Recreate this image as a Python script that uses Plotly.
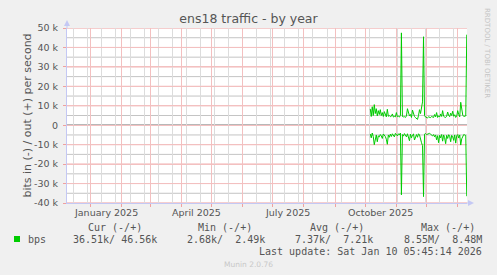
import plotly.graph_objects as go
import pandas as pd

# ---- data (k bits per second, daily averages) ----
start_date = "2025-10-06"
out_k = [8.4, 4.5, 9.5, 5.0, 10.6, 6.0, 8.5, 4.8, 7.5, 5.5, 8.0,
         5.0, 6.5, 4.5, 7.0, 5.2, 4.3, 8.2, 4.6, 5.0, 4.4,
         4.6, 5.8, 4.2, 4.5, 4.3, 6.5, 4.4, 4.6, 4.2, 5.0,
         47.5,
         4.5, 4.3, 4.4, 4.0, 4.8, 8.5, 6.0, 4.8, 5.5, 4.0,
         7.8, 5.2, 4.5, 3.9, 3.5, 3.0, 5.0, 8.0, 6.0, 9.0, 12.0,
         45.5,
         5.0, 4.2, 4.0, 3.8, 4.3, 4.0, 3.9, 4.5, 4.2, 4.0,
         5.5, 4.3, 6.5, 4.0, 4.8, 4.2, 5.8, 4.5, 7.5, 4.6,
         4.2, 4.0, 4.6, 6.8, 5.0, 4.4, 6.2, 5.0, 7.2, 4.6,
         5.4, 4.0, 4.6, 7.5, 5.5, 4.3, 11.8, 8.0, 5.2, 4.5,
         4.6, 4.8,
         46.56]
in_k = [4.5, 6.5, 4.0, 5.8, 10.0, 6.2, 5.0, 8.5, 5.5, 6.0, 4.8,
        5.5, 6.8, 4.5, 5.0, 5.8, 7.2, 9.8, 5.0, 6.2, 4.6,
        5.8, 4.4, 5.5, 6.0, 4.2, 5.0, 5.5, 4.4, 5.0, 4.0,
        35.8,
        4.8, 5.6, 4.3, 5.2, 6.0, 4.4, 5.8, 8.0, 4.6, 6.5,
        5.0, 4.5, 7.6, 5.5, 4.8, 6.2, 4.4, 5.0, 7.5, 9.0, 10.5,
        36.7,
        4.6, 4.3, 4.8, 4.5, 4.4, 4.2, 4.6, 5.2, 5.5, 4.8,
        6.0, 5.0, 7.5, 5.4, 9.0, 5.2, 6.5, 4.8, 8.2, 5.0,
        6.4, 9.5, 5.2, 6.8, 4.9, 5.6, 8.5, 5.2, 6.0, 7.8,
        5.0, 9.2, 5.4, 4.8, 6.6, 5.0, 10.2, 7.0, 5.5, 4.8,
        5.0, 5.3,
        36.51]
dates = pd.date_range(start_date, periods=len(out_k), freq="D")

y_tickvals = [-40, -30, -20, -10, 0, 10, 20, 30, 40, 50]
y_ticktext = ["-40 k", "-30 k", "-20 k", "-10 k", "0", "10 k", "20 k", "30 k", "40 k", "50 k"]
y_minorvals = [-35, -25, -15, -5, 5, 15, 25, 35, 45]
x_labelvals = ["2025-01-16", "2025-04-16", "2025-07-16", "2025-10-16"]
x_labeltext = ["January 2025", "April 2025", "July 2025", "October 2025"]
x_range = ["2024-12-08 08:00", "2026-01-10 05:45"]

legend_cols = ["Cur (-/+)", "Min (-/+)", "Avg (-/+)", "Max (-/+)"]
legend_vals = ["36.51k/ 46.56k", "2.68k/  2.49k", "7.37k/  7.21k", "8.55M/  8.48M"]
series_name = "bps"
last_update = "Last update: Sat Jan 10 05:45:14 2026"

# ---- layout geometry ----
W, H = 497, 275
L, R, T, B = 67, 467, 28, 203

def px(x):
    return (x - L) / (R - L)

def py(y):
    return (B - y) / (B - T)

MAJOR = "#F3C0C0"
MINOR = "#DCDCDC"
HMAJOR = "#EC9C9C"
HMINOR = "#C4C4C4"
TICKC = "#F0A0A0"
AXIS = "#C4C8F4"
TXT = "#555555"
GREEN = "#00CC00"

fig = go.Figure()
fig.add_trace(go.Scatter(x=dates, y=out_k, mode="lines",
                         line=dict(color=GREEN, width=1), showlegend=False))
fig.add_trace(go.Scatter(x=dates, y=[-v for v in in_k], mode="lines",
                         line=dict(color=GREEN, width=1), showlegend=False))

fig.update_layout(
    width=W, height=H,
    margin=dict(l=L, r=W - R, t=T, b=H - B, pad=0),
    paper_bgcolor="#F0F0F0", plot_bgcolor="#FFFFFF",
    font=dict(family="DejaVu Sans", size=9.5, color=TXT),
    title=dict(text="ens18 traffic - by year", x=0.5, xanchor="center", xref="container",
               y=1 - 18.5 / H, yanchor="middle", yref="container",
               font=dict(family="DejaVu Sans", size=12.5, color=TXT)),
    xaxis=dict(type="date", range=x_range, tick0="2025-01-01", dtick="M1",
               showticklabels=False, showgrid=True, gridcolor=MAJOR, gridwidth=1,
               ticks="outside", ticklen=3, tickcolor=TICKC,
               minor=dict(dtick=14 * 86400000, tick0="2024-12-15", showgrid=True,
                          gridcolor=MINOR, gridwidth=1, ticks=""),
               showline=True, linecolor=AXIS, linewidth=1, zeroline=False,
               fixedrange=True),
    yaxis=dict(range=[-40, 50], tickvals=y_tickvals, ticktext=[t + "\u00a0" for t in y_ticktext],
               showgrid=True, gridcolor=MAJOR, gridwidth=1,
               ticks="outside", ticklen=3, tickcolor=TICKC,
               zeroline=False, showline=True, linecolor=AXIS, linewidth=1,
               title=dict(text="bits in (-) / out (+) per second", standoff=0,
                          font=dict(family="DejaVu Sans", size=11, color=TXT))),
)

shapes = []
# horizontal grid lines, positioned through the y axis
for v in y_minorvals:
    shapes.append(dict(type="line", xref="paper", x0=0, x1=1, yref="y", y0=v, y1=v,
                       layer="between", line=dict(color=HMINOR, width=1)))
for v in y_tickvals:
    if v == 0:
        continue
    shapes.append(dict(type="line", xref="paper", x0=0, x1=1, yref="y", y0=v, y1=v,
                       layer="between", line=dict(color=HMAJOR, width=1)))
# zero line
shapes.append(dict(type="line", xref="paper", x0=0, x1=1, yref="y", y0=0, y1=0,
                   layer="between", line=dict(color="#000000", width=1)))
# axis arrows
shapes += [
    dict(type="line", xref="paper", yref="paper", x0=0, x1=0, y0=1, y1=py(22),
         line=dict(color=AXIS, width=1)),
    dict(type="path", xref="paper", yref="paper",
         path=f"M {px(64)} {py(26)} L {px(70)} {py(26)} L {px(67)} {py(20)} Z",
         fillcolor=AXIS, line=dict(color=AXIS, width=0)),
    dict(type="line", xref="paper", yref="paper", x0=1, x1=px(471), y0=0, y1=0,
         line=dict(color=AXIS, width=1)),
    dict(type="path", xref="paper", yref="paper",
         path=f"M {px(468)} {py(200)} L {px(468)} {py(206)} L {px(474)} {py(203)} Z",
         fillcolor=AXIS, line=dict(color=AXIS, width=0)),
    # legend swatch
    dict(type="rect", xref="paper", yref="paper", x0=px(14), x1=px(20), y0=py(242), y1=py(236),
         fillcolor=GREEN, line=dict(width=0)),
]
fig.update_layout(shapes=shapes)

MONO = "DejaVu Sans Mono"
ann = []
def add(text, x, y, xanchor="left", size=10, color=TXT, family=MONO, angle=0):
    ann.append(dict(text=text.replace(" ", "\u00a0"), x=px(x), y=py(y), xref="paper", yref="paper",
                    xanchor=xanchor, yanchor="middle", showarrow=False, textangle=angle,
                    font=dict(family=family, size=size, color=color), borderpad=0))

for v, t in zip(x_labelvals, x_labeltext):
    ann.append(dict(text=t, x=v, xref="x", y=py(212), yref="paper", xanchor="center",
                    yanchor="middle", showarrow=False, borderpad=0,
                    font=dict(family="DejaVu Sans", size=9.5, color=TXT)))

header_right = [143, 253, 365, 476]
value_right = [158, 266, 374, 483]
for t, xr in zip(legend_cols, header_right):
    add(t, xr, 227.5, "right")
for t, xr in zip(legend_vals, value_right):
    add(t, xr, 239, "right")
add(series_name, 27, 239, "left")
add(last_update, 483, 251, "right")
add("Munin 2.0.76", 248, 264.5, "center", size=7.5, color="#C8C8C8", family="DejaVu Sans")
add("RRDTOOL / TOBI OETIKER", 487, 53, "center", size=7, color="#C4C4C4",
    family="DejaVu Sans", angle=90)
fig.update_layout(annotations=ann)

fig.write_html("out.html")
